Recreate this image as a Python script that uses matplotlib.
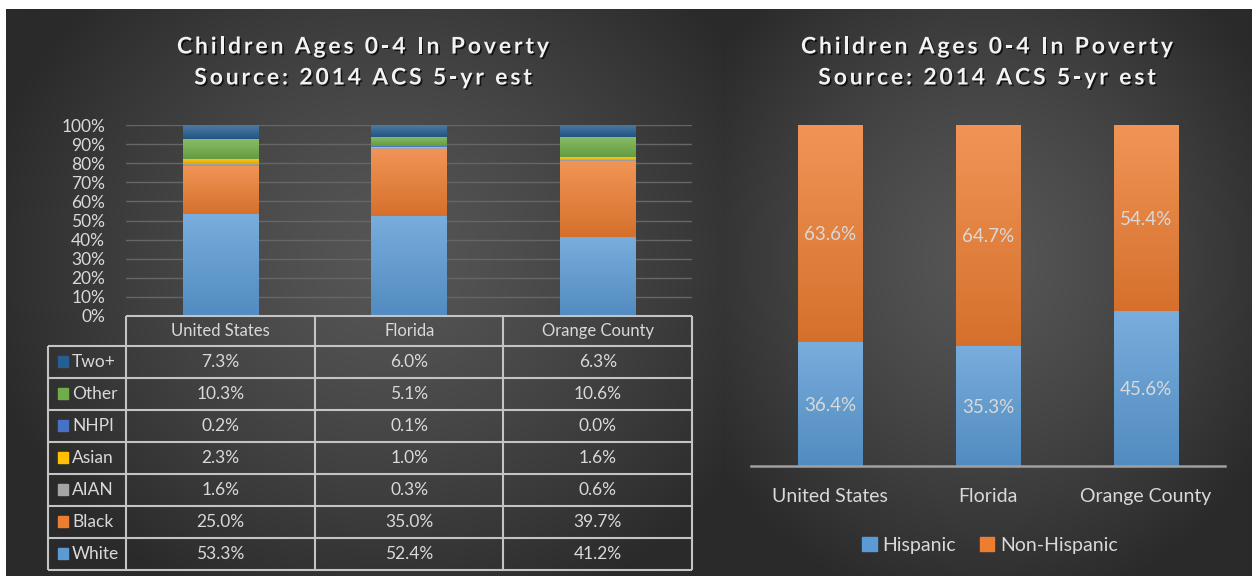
import numpy as np
import matplotlib
matplotlib.use('Agg')
import matplotlib.pyplot as plt
import matplotlib.patheffects as pe
from matplotlib.colors import to_rgb

plt.rcParams['font.family'] = ['Lato', 'DejaVu Sans']

# ---- data ----
places = ['United States', 'Florida', 'Orange County']
races = ['White', 'Black', 'AIAN', 'Asian', 'NHPI', 'Other', 'Two+']
race_colors = ['#5b9bd5', '#ed7d31', '#a5a5a5', '#ffc000', '#4472c4', '#70ad47', '#255e91']
white = [53.3, 52.4, 41.2]
black = [25.0, 35.0, 39.7]
aian = [1.6, 0.3, 0.6]
asian = [2.3, 1.0, 1.6]
nhpi = [0.2, 0.1, 0.0]
other = [10.3, 5.1, 10.6]
two_plus = [7.3, 6.0, 6.3]
race_vals = [white, black, aian, asian, nhpi, other, two_plus]

hispanic = [36.4, 35.3, 45.6]
non_hispanic = [63.6, 64.7, 54.4]

title_lines = ['Children Ages 0-4 In Poverty', 'Source: 2014 ACS 5-yr est']
TXT = '#d9d9d9'
W, H = 1252, 576

fig = plt.figure(figsize=(W / 100, H / 100), dpi=100, facecolor='white')


def px(x0, y0, x1, y1):
    # pixel box (top-left origin) -> figure fraction rect
    return [x0 / W, 1 - y1 / H, (x1 - x0) / W, (y1 - y0) / H]


def radial_bg(ax, x0, x1, y0, y1, cx, cy, rx, ry):
    xs = np.linspace(x0, x1, 300)
    ys = np.linspace(y0, y1, 300)
    X, Y = np.meshgrid(xs, ys)
    r = np.clip(np.sqrt(((X - cx) / rx) ** 2 + ((Y - cy) / ry) ** 2), 0, 1)
    c_in, c_out = 0x56 / 255, 0x2a / 255
    v = c_in - (c_in - c_out) * r ** 1.3
    img = np.dstack([v, v, v])
    ax.imshow(img, extent=(x0, x1, y1, y0), aspect='auto', interpolation='bilinear', zorder=0)


# background panels
bg = fig.add_axes([0, 0, 1, 1])
bg.set_xlim(0, W)
bg.set_ylim(H, 0)
bg.axis('off')
radial_bg(bg, 6, 722, 9, H, 390, 260, 420, 380)
radial_bg(bg, 722, W, 9, H, 985, 260, 330, 360)


def shade(c, f):
    c = np.array(to_rgb(c))
    if f > 0:
        return c + (1 - c) * f
    return c * (1 + f)


def grad_bars(ax, bars, color):
    for b in bars:
        x, y = b.get_x(), b.get_y()
        w, h = b.get_width(), b.get_height()
        if h <= 0:
            continue
        top, bot = shade(color, 0.18), shade(color, -0.1)
        t = np.linspace(0, 1, 64)[:, None]
        g = (top[None, :] * (1 - t) + bot[None, :] * t)[:, None, :]
        im = ax.imshow(g, extent=(x, x + w, y, y + h), aspect='auto',
                       interpolation='bilinear', zorder=3, origin='upper')
        im.set_clip_path(b)
    ax.set_aspect('auto')


def spaced_title(lines, cx, ys, size=16.5, target=372):
    # letter-spaced bold title, spacing chosen so line 1 spans `target` px
    r = fig.canvas.get_renderer()
    kw = dict(fontsize=size, fontweight='bold', color='#f2f2f2')

    def width(s):
        t = fig.text(0, 0, s, **kw)
        w = t.get_window_extent(r).width
        t.remove()
        return w
    sp = width('a a') - width('aa')
    widths = [[sp if ch == ' ' else width(ch) for ch in line] for line in lines]
    spacing = (target - sum(widths[0])) / (len(lines[0]) - 1)
    for line, ws, cy in zip(lines, widths, ys):
        total = sum(ws) + spacing * (len(line) - 1)
        x = cx - total / 2
        for ch, w in zip(line, ws):
            if ch != ' ':
                fig.text(x / W, 1 - cy / H, ch, ha='left', va='center', **kw,
                         path_effects=[pe.SimplePatchShadow(offset=(1.2, -1.2), shadow_rgbFace='black', alpha=0.7),
                                       pe.Normal()])
            x += w + spacing


# ---- left: stacked race bars ----
ax = fig.add_axes(px(126, 125, 692, 316))
ax.patch.set_alpha(0)
x = np.arange(len(places))
bottom = np.zeros(3)
for name, vals, col in zip(races, race_vals, race_colors):
    bars = ax.bar(x, vals, 0.40, bottom=bottom, color=col, zorder=2, linewidth=0)
    grad_bars(ax, bars, col)
    bottom += np.array(vals)
ax.set_xlim(-0.5, 2.5)
ax.set_ylim(0, 100)
ax.set_yticks(np.arange(0, 101, 10))
ax.set_yticklabels([f'{v}%' for v in range(0, 101, 10)])
ax.tick_params(axis='y', length=0, pad=15, labelsize=12.5, labelcolor=TXT)
ax.set_xticks([])
ax.grid(axis='y', color='#666666', lw=1, zorder=1)
for s in ax.spines.values():
    s.set_visible(False)

# table under the left chart
tb = fig.add_axes(px(48, 316, 692, 570))
tb.set_xlim(48, 692)
tb.set_ylim(570, 316)
tb.axis('off')
col_edges = [126, 315, 503.5, 692]
row_edges = [346 + 32 * i for i in range(8)]
lc, lw = '#c4c4c4', 1.5
tb.hlines(316, 126, 692, color=lc, lw=lw, clip_on=False)
for yy in row_edges:
    tb.hlines(yy, 48, 692, color=lc, lw=lw, clip_on=False)
for xx in col_edges:
    tb.vlines(xx, 316, 570, color=lc, lw=lw, clip_on=False)
tb.vlines(48, 346, 570, color=lc, lw=lw, clip_on=False)
for j, place in enumerate(places):
    cxp = (col_edges[j] + col_edges[j + 1]) / 2
    tb.text(cxp, 331, place, ha='center', va='center', fontsize=12, color=TXT)
# rows listed top-down: Two+ ... White
for i, k in enumerate(range(len(races) - 1, -1, -1)):
    cy = row_edges[i] + 16
    tb.add_patch(plt.Rectangle((58, cy - 5.5), 10, 11, color=race_colors[k], clip_on=False))
    tb.text(72, cy, races[k], ha='left', va='center', fontsize=12.5, color=TXT)
    for j in range(3):
        cxp = (col_edges[j] + col_edges[j + 1]) / 2
        tb.text(cxp, cy, f'{race_vals[k][j]:.1f}%', ha='center', va='center', fontsize=12.5, color=TXT)

# ---- right: hispanic / non-hispanic ----
ax2 = fig.add_axes(px(751, 125, 1225, 466))
ax2.patch.set_alpha(0)
b1 = ax2.bar(x, hispanic, 0.41, color='#5b9bd5', zorder=2, linewidth=0)
grad_bars(ax2, b1, '#5b9bd5')
b2 = ax2.bar(x, non_hispanic, 0.41, bottom=hispanic, color='#ed7d31', zorder=2, linewidth=0)
grad_bars(ax2, b2, '#ed7d31')
for i in range(3):
    ax2.text(x[i], hispanic[i] / 2, f'{hispanic[i]:.1f}%', ha='center', va='center_baseline',
             fontsize=13.5, color=TXT, zorder=5)
    ax2.text(x[i], hispanic[i] + non_hispanic[i] / 2, f'{non_hispanic[i]:.1f}%', ha='center',
             va='center_baseline', fontsize=13.5, color=TXT, zorder=5)
ax2.set_xlim(-0.5, 2.5)
ax2.set_ylim(0, 100)
ax2.set_yticks([])
ax2.set_xticks(x)
ax2.set_xticklabels(places)
ax2.tick_params(axis='x', length=0, pad=16, labelsize=14, labelcolor=TXT)
for n, s in ax2.spines.items():
    s.set_visible(n == 'bottom')
ax2.spines['bottom'].set_color('#a0a0a0')
ax2.spines['bottom'].set_linewidth(1.8)
ax2.spines['bottom'].set_zorder(4)

handles = [plt.Rectangle((0, 0), 1, 1, color='#5b9bd5'), plt.Rectangle((0, 0), 1, 1, color='#ed7d31')]
fig.legend(handles, ['Hispanic', 'Non-Hispanic'], loc='center', bbox_to_anchor=(990 / W, 1 - 545 / H),
           ncol=2, frameon=False, fontsize=14, labelcolor=TXT, handlelength=0.75, handleheight=0.75,
           handletextpad=0.3, columnspacing=1.2)

spaced_title(title_lines, 363, [47, 78])
spaced_title(title_lines, 987, [47, 78])

fig.savefig('out.png', dpi=100, facecolor='white')
